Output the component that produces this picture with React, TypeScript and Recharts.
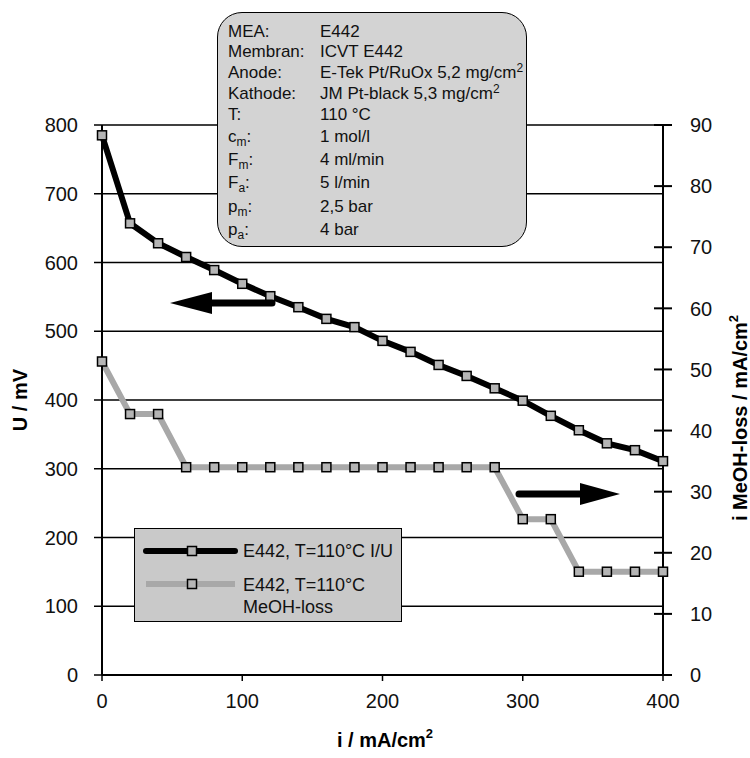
import React from 'react';
import { LineChart, Line, XAxis, YAxis, CartesianGrid } from 'recharts';

// current density i / mA/cm2
const currentDensity = [0, 20, 40, 60, 80, 100, 120, 140, 160, 180, 200, 220, 240, 260, 280, 300, 320, 340, 360, 380, 400];
// cell voltage U / mV (left axis)
const voltage = [785, 657, 628, 608, 589, 569, 551, 535, 518, 506, 486, 470, 451, 435, 417, 399, 377, 356, 337, 327, 311];
// methanol loss current / mA/cm2 (right axis)
const meohLoss = [51.3, 42.7, 42.7, 34, 34, 34, 34, 34, 34, 34, 34, 34, 34, 34, 34, 25.5, 25.5, 16.9, 16.9, 16.9, 16.9];

const xTicks = [0, 100, 200, 300, 400];
const leftTicks = [0, 100, 200, 300, 400, 500, 600, 700, 800];
const rightTicks = [0, 10, 20, 30, 40, 50, 60, 70, 80, 90];

const seriesNames = ['E442, T=110°C I/U', 'E442, T=110°C', 'MeOH-loss'];

const FONT = '"Liberation Sans", Arial, Helvetica, sans-serif';

const data = currentDensity.map((i, idx) => ({
  i,
  u: voltage[idx],
  loss: meohLoss[idx],
}));

const squareDot = (props: any) => {
  const { cx, cy, index, dataKey } = props;
  if (cx == null || cy == null) return <g key={`${dataKey}-${index}`} />;
  return (
    <rect
      key={`${dataKey}-${index}`}
      x={cx - 4.5}
      y={cy - 4.5}
      width={9}
      height={9}
      fill="#b5b5b5"
      stroke="#000"
      strokeWidth={1.5}
    />
  );
};

const RightTick = (props: any) => {
  const { x, y, payload } = props;
  return (
    <g>
      <line x1={x - 36} x2={x - 18} y1={y} y2={y} stroke="#000" strokeWidth={2} />
      <text x={x} y={y} dy="0.36em" textAnchor="start" fontSize={20} fill="#111" fontFamily={FONT}>
        {payload.value}
      </text>
    </g>
  );
};

const Sub = ({ children }: { children: React.ReactNode }) => (
  <span style={{ fontSize: 12, position: 'relative', top: 4 }}>{children}</span>
);
const Sup = ({ children }: { children: React.ReactNode }) => (
  <span style={{ fontSize: 12, position: 'relative', top: -6 }}>{children}</span>
);

const infoRows: [React.ReactNode, React.ReactNode, number][] = [
  ['MEA:', 'E442', 32],
  ['Membran:', 'ICVT E442', 52],
  ['Anode:', <>E-Tek Pt/RuOx 5,2 mg/cm<Sup>2</Sup></>, 73],
  ['Kathode:', <>JM Pt-black 5,3 mg/cm<Sup>2</Sup></>, 94],
  ['T:', '110 °C', 115],
  [<>c<Sub>m</Sub>:</>, '1 mol/l', 137],
  [<>F<Sub>m</Sub>:</>, '4 ml/min', 160],
  [<>F<Sub>a</Sub>:</>, '5 l/min', 183],
  [<>p<Sub>m</Sub>:</>, '2,5 bar', 207],
  [<>p<Sub>a</Sub>:</>, '4 bar', 230],
];

export default function App() {
  return (
    <div style={{ position: 'absolute', left: 0, top: 0, width: 750, height: 758, background: '#fff', fontFamily: FONT }}>
      <LineChart width={750} height={758} data={data} margin={{ top: 125, right: 0, bottom: 0, left: 0 }}>
        <CartesianGrid yAxisId="left" vertical={false} stroke="#000" strokeWidth={1.5} />
        <XAxis
          dataKey="i"
          type="number"
          domain={[0, 400]}
          ticks={xTicks}
          height={83}
          axisLine={{ stroke: '#000', strokeWidth: 2 }}
          tickLine={{ stroke: '#000', strokeWidth: 1.5 }}
          tickSize={6}
          tickMargin={13}
          tick={{ fontSize: 20, fill: '#111', fontFamily: FONT }}
        />
        <YAxis
          yAxisId="left"
          domain={[0, 800]}
          ticks={leftTicks}
          width={102}
          axisLine={{ stroke: '#000', strokeWidth: 2 }}
          tickLine={{ stroke: '#000', strokeWidth: 1.5 }}
          tickSize={8}
          tickMargin={16}
          tick={{ fontSize: 20, fill: '#111', fontFamily: FONT }}
        />
        <YAxis
          yAxisId="right"
          orientation="right"
          domain={[0, 90]}
          ticks={rightTicks}
          width={87}
          axisLine={{ stroke: '#000', strokeWidth: 2 }}
          tickLine={false}
          tickSize={0}
          tickMargin={27}
          tick={<RightTick />}
        />
        <Line
          yAxisId="right"
          dataKey="loss"
          type="linear"
          stroke="#a8a8a8"
          strokeWidth={6}
          dot={squareDot}
          isAnimationActive={false}
        />
        <Line
          yAxisId="left"
          dataKey="u"
          type="linear"
          stroke="#000"
          strokeWidth={6}
          dot={squareDot}
          isAnimationActive={false}
        />
      </LineChart>

      {/* axis titles and arrows */}
      <svg width={750} height={758} style={{ position: 'absolute', left: 0, top: 0, pointerEvents: 'none' }}>
        <text x={20} y={400} transform="rotate(-90 20 400)" textAnchor="middle" dominantBaseline="central" fontSize={20} fontWeight="bold" fontFamily={FONT}>
          U / mV
        </text>
        <text x={740} y={418} transform="rotate(-90 740 418)" textAnchor="middle" dominantBaseline="central" fontSize={20} fontWeight="bold" fontFamily={FONT}>
          i MeOH-loss / mA/cm<tspan fontSize={13} dy={-7}>2</tspan>
        </text>
        <text x={385} y={740} textAnchor="middle" dominantBaseline="central" fontSize={20} fontWeight="bold" fontFamily={FONT}>
          i / mA/cm<tspan fontSize={13} dy={-7}>2</tspan>
        </text>
        <line x1={208} x2={272} y1={303} y2={303} stroke="#000" strokeWidth={7} strokeLinecap="round" />
        <polygon points="170,303 212,292 212,314" fill="#000" />
        <line x1={519} x2={584} y1={494} y2={494} stroke="#000" strokeWidth={7} strokeLinecap="round" />
        <polygon points="620,494 580,483 580,505" fill="#000" />
      </svg>

      {/* parameter box */}
      <div
        style={{
          position: 'absolute',
          left: 217,
          top: 12,
          width: 310,
          height: 235,
          boxSizing: 'border-box',
          background: '#d3d3d3',
          border: '1.5px solid #000',
          borderRadius: 25,
        }}
      />
      {infoRows.map(([label, value, y], k) => (
        <React.Fragment key={k}>
          <div style={{ position: 'absolute', left: 228, top: y - 10, height: 20, lineHeight: '20px', fontSize: 17, color: '#111', whiteSpace: 'nowrap' }}>
            {label}
          </div>
          <div style={{ position: 'absolute', left: 320, top: y - 10, height: 20, lineHeight: '20px', fontSize: 17, color: '#111', whiteSpace: 'nowrap' }}>
            {value}
          </div>
        </React.Fragment>
      ))}

      {/* legend */}
      <div
        style={{
          position: 'absolute',
          left: 134,
          top: 528,
          width: 268,
          height: 94,
          boxSizing: 'border-box',
          background: '#c9c9c9',
          border: '1.5px solid #000',
        }}
      />
      <svg width={750} height={758} style={{ position: 'absolute', left: 0, top: 0, pointerEvents: 'none' }}>
        <line x1={146} x2={235} y1={551} y2={551} stroke="#000" strokeWidth={6} strokeLinecap="round" />
        <rect x={187.5} y={546.5} width={9} height={9} fill="#b5b5b5" stroke="#000" strokeWidth={1.5} />
        <line x1={146} x2={235} y1={584} y2={584} stroke="#a8a8a8" strokeWidth={6} />
        <rect x={187.5} y={579.5} width={9} height={9} fill="#b5b5b5" stroke="#000" strokeWidth={1.5} />
        <text x={243} y={551} dominantBaseline="central" fontSize={18} fill="#111" fontFamily={FONT}>{seriesNames[0]}</text>
        <text x={243} y={585} dominantBaseline="central" fontSize={18} fill="#111" fontFamily={FONT}>{seriesNames[1]}</text>
        <text x={243} y={607} dominantBaseline="central" fontSize={18} fill="#111" fontFamily={FONT}>{seriesNames[2]}</text>
      </svg>
    </div>
  );
}
